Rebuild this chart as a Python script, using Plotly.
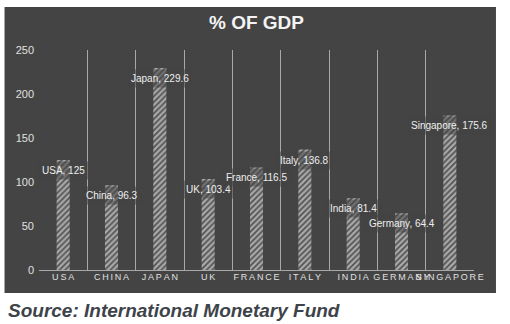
import plotly.graph_objects as go

categories = ["USA", "CHINA", "JAPAN", "UK", "FRANCE", "ITALY", "INDIA", "GERMANY", "SINGAPORE"]
label_names = ["USA", "China", "Japan", "UK", "France", "Italy", "India", "Germany", "Singapore"]
values = [125, 96.3, 229.6, 103.4, 116.5, 136.8, 81.4, 64.4, 175.6]
y_ticks = [0, 50, 100, 150, 200, 250]

FONT = "Arial, 'Liberation Sans', sans-serif"
BG = "#444444"

tick_text = ["\u2009".join(list(c)) for c in categories]

fig = go.Figure()
fig.add_trace(go.Bar(
    x=categories, y=values, width=0.27,
    marker=dict(color="#4a4a4a", line=dict(width=0),
                pattern=dict(shape="/", fgcolor="#ffffff", bgcolor="#505050",
                             size=4, solidity=0.6)),
    hoverinfo="skip",
))

annotations = []
for c, n, v in zip(categories, label_names, values):
    annotations.append(dict(
        x=c, y=v, xref="x", yref="y", text=f"{n}, {v:g}", showarrow=False,
        yanchor="top", yshift=-1, borderpad=3, bgcolor="rgba(68,68,68,0.55)",
        font=dict(family=FONT, size=10, color="#eeeeee"),
    ))

pw = 474 - 38.5
ph = 220.0
annotations.append(dict(
    x=(5 - 38.5) / pw, y=(270 - 310) / ph, xref="paper", yref="paper",
    xanchor="left", yanchor="middle", showarrow=False,
    text="<b><i>Source: International Monetary Fund</i></b>",
    font=dict(family=FONT, size=19, color="#3d4349"),
))

fig.update_layout(
    width=510, height=324,
    margin=dict(l=38.5, r=36, t=50, b=54),
    paper_bgcolor="white", plot_bgcolor="rgba(0,0,0,0)",
    showlegend=False,
    title=dict(text="<b>% OF GDP</b>", x=0.5, xref="paper", y=1 - 22 / 324, yanchor="middle",
               font=dict(family=FONT, size=19, color="#f4f4f4")),
    annotations=annotations,
    shapes=[dict(type="rect", xref="paper", yref="paper", layer="below",
                 x0=(4 - 38.5) / pw, x1=(496 - 38.5) / pw,
                 y0=(270 - 293) / ph, y1=(270 - 7) / ph,
                 fillcolor=BG, line=dict(width=0))],
    xaxis=dict(type="category", range=[-0.5, 8.5], tickson="boundaries",
               showgrid=True, gridcolor="#a8a8a8", gridwidth=1,
               tickvals=categories, ticktext=tick_text, tickangle=0,
               ticks="", showline=False,
               tickfont=dict(family=FONT, size=9, color="#e0e0e0")),
    yaxis=dict(range=[0, 250], tickvals=y_ticks, showgrid=False,
               zeroline=True, zerolinecolor="#a8a8a8", zerolinewidth=1,
               ticks="", showline=False, ticklabelstandoff=4,
               tickfont=dict(family=FONT, size=11, color="#e0e0e0")),
)

fig.write_html("out.html")
